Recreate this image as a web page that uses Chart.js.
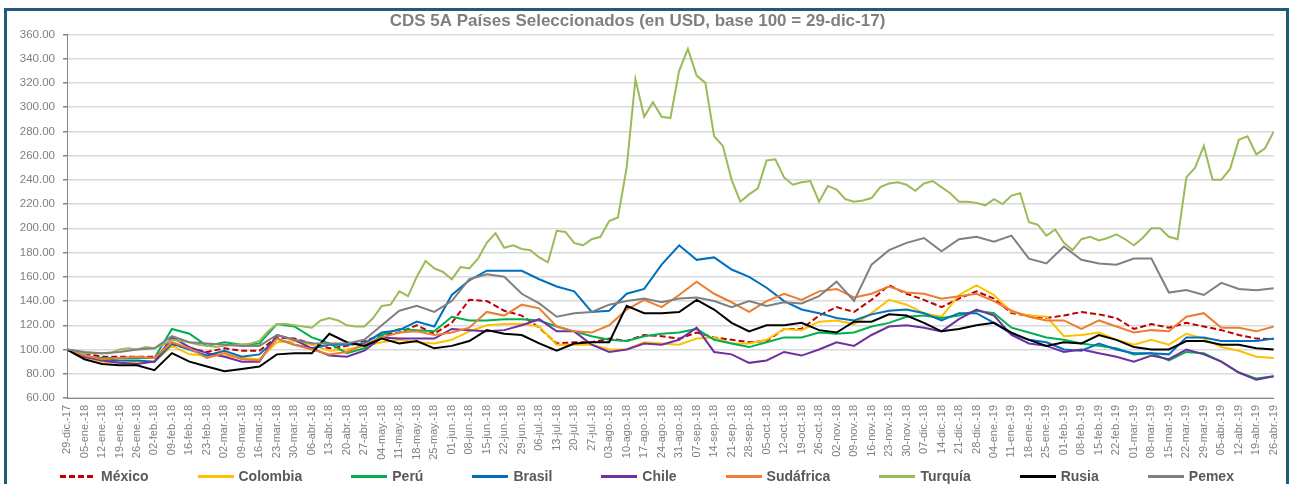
<!DOCTYPE html>
<html>
<head>
<meta charset="utf-8">
<script src="https://cdn.jsdelivr.net/npm/chart.js@4.4.1/dist/chart.umd.min.js"></script>
<style>
  html, body { margin: 0; padding: 0; background: #fff; }
  body { width: 1294px; height: 484px; overflow: hidden; position: relative; font-family: "Liberation Sans", Arial, sans-serif; }
  #frame { position: absolute; left: 4px; top: 8px; width: 1285px; height: 520px; border: 3px solid #1f5b7a; box-sizing: border-box; pointer-events: none; }
  #chart { position: absolute; left: 0; top: 0; }
  #legend { position: absolute; left: 0; top: 467px; width: 1294px; height: 18px; display: flex; justify-content: center; align-items: center; gap: 49px; }
  .item { display: flex; align-items: center; font-weight: bold; font-size: 14px; color: #595959; }
  .swatch { width: 36px; height: 3px; margin-right: 5px; }
</style>
</head>
<body>
<canvas id="chart" width="1294" height="484"></canvas>
<div id="frame"></div>
<div id="legend"></div>
<script>
// weekly axis labels (Fridays)
const weekLabels = ['29-dic.-17','05-ene.-18','12-ene.-18','19-ene.-18','26-ene.-18','02-feb.-18','09-feb.-18','16-feb.-18','23-feb.-18','02-mar.-18',
  '09-mar.-18','16-mar.-18','23-mar.-18','30-mar.-18','06-abr.-18','13-abr.-18','20-abr.-18','27-abr.-18','04-may.-18','11-may.-18',
  '18-may.-18','25-may.-18','01-jun.-18','08-jun.-18','15-jun.-18','22-jun.-18','29-jun.-18','06-jul.-18','13-jul.-18','20-jul.-18',
  '27-jul.-18','03-ago.-18','10-ago.-18','17-ago.-18','24-ago.-18','31-ago.-18','07-sep.-18','14-sep.-18','21-sep.-18','28-sep.-18',
  '05-oct.-18','12-oct.-18','19-oct.-18','26-oct.-18','02-nov.-18','09-nov.-18','16-nov.-18','23-nov.-18','30-nov.-18','07-dic.-18',
  '14-dic.-18','21-dic.-18','28-dic.-18','04-ene.-19','11-ene.-19','18-ene.-19','25-ene.-19','01-feb.-19','08-feb.-19','15-feb.-19',
  '22-feb.-19','01-mar.-19','08-mar.-19','15-mar.-19','22-mar.-19','29-mar.-19','05-abr.-19','12-abr.-19','19-abr.-19','26-abr.-19'];

// weekly values (base 100 = 29-dic-17)
const mexico = [100,97,94,94,94,94,104,101,98,101,
  99,99,110,109,105,101,103,107,112,114,
  120,113,122,141,140,132,128,118,105,106,
  106,109,107,112,111,109,114,110,108,106,
  107,117,117,128,135,131,141,153,146,141,
  135,142,148,142,130,128,126,128,131,129,
  126,117,121,118,122,119,116,112,109,108.6];
const colombia = [100,94,90,89,90,90,103,96,95,95,
  93,92,106,107,104,99,100,103,106,108,
  106,105,108,115,120,121,121,119,104,104,
  104,100,100,106,105,104,109,110,105,105,
  108,117,116,123,124,121,130,141,137,130,
  127,145,153,145,131,128,127,111,112,114,
  108,104,108,104,113,109,102,99,94,93];
const peru = [100,94,93,93,93,93,117,113,103,106,
  104,105,121,119,110,105,97,101,112,117,
  116,115,127,124,124,125,125,124,119,115,
  111,108,107,111,113,114,117,108,105,102,
  106,110,110,114,113,114,119,122,127,128,
  126,128,132,130,118,114,110,108,105,103,
  101,96,97,91,98,97,90,81,76,78];
const brasil = [100,95,92,91,91,90,105,100,95,99,
  94,96,109,104,101,104,104,105,114,116,
  123,119,145,157,165,165,165,158,152,148,
  131,132,146,150,170,186,174,176,166,160,
  151,140,133,130,126,124,129,132,133,130,
  124,130,130,122,113,108,106,100,99,105,
  100,97,97,96,110,110,107,107,107,109];
const chile = [100,94,91,89,88,90,110,102,97,94,
  90,90,112,108,101,95,94,99,110,109,
  109,109,117,116,115,116,120,125,115,115,
  104,98,100,105,104,108,118,98,96,89,
  91,98,95,100,106,103,112,119,120,118,
  115,125,133,128,112,105,103,98,100,97,
  94,90,95,92,100,96,90,81,75,78];
const sudafrica = [100,95,92,93,94,93,106,101,93,97,
  92,91,109,104,100,96,98,104,110,114,
  115,112,114,118,131,128,137,134,119,115,
  114,120,133,141,135,145,156,146,139,131,
  140,146,141,148,150,143,146,152,147,146,
  142,144,146,140,132,127,124,124,117,124,
  119,114,116,115,127,130,118,118,115,119];
// Turquía read at half-week steps
const turquia = [100,99,97,97,97,97,100,101,100,102,
  101,104,108,107,106,104,103,102,103,104,
  104,105,107,115,121,121,120,119,118,124,
  126,124,120,119,119,126,136,137,148,144,
  160,173,167,164,158,168,167,175,188,196,
  184,186,183,182,176,172,198,197,188,186,
  191,193,206,209,250,323,292,304,292,291,
  330,348,326,320,276,268,240,222,228,233,
  256,257,242,236,238,239,222,235,232,224,
  222,223,225,234,237,238,236,231,237,239,
  234,229,222,222,221,219,224,220,227,229,
  205,203,194,199,188,182,191,193,190,192,
  195,191,186,192,200,200,193,191,242,250,
  268,240,240,249,273,276,261,266,280];
const rusia = [100,92,88,87,87,83,97,90,86,82,
  84,86,96,97,97,113,106,103,109,105,
  107,101,103,107,116,113,112,105,99,105,
  106,106,136,130,130,131,141,133,122,115,
  120,120,122,116,114,123,123,129,128,122,
  115,117,120,122,114,108,103,106,105,112,
  108,102,100,100,107,107,104,104,101,100];
const pemex = [100,98,97,98,100,101,111,106,105,104,
  103,103,112,108,105,105,105,108,120,132,
  136,131,140,158,162,160,146,138,127,130,
  131,137,140,142,139,142,143,140,135,140,
  136,139,138,144,156,140,170,182,188,192,
  181,191,193,189,194,175,171,185,174,171,
  170,175,175,147,149,145,155,150,149,150.6];

// name, values, step in weeks, colour, dash
const series = [
  ['México', mexico, 1, '#c00000', [6, 3]],
  ['Colombia', colombia, 1, '#ffc000', []],
  ['Perú', peru, 1, '#00b050', []],
  ['Brasil', brasil, 1, '#0070c0', []],
  ['Chile', chile, 1, '#7030a0', []],
  ['Sudáfrica', sudafrica, 1, '#ed7d31', []],
  ['Turquía', turquia, 0.5, '#9bbb59', []],
  ['Rusia', rusia, 1, '#000000', []],
  ['Pemex', pemex, 1, '#808080', []]
];

Chart.defaults.font.family = '"Liberation Sans", Arial, sans-serif';

const datasets = series.map(([name, vals, step, color, dash], i) => ({
  label: name,
  data: vals.map((v, j) => ({ x: j * step, y: v })),
  borderColor: color,
  backgroundColor: color,
  borderDash: dash,
  borderWidth: 2,
  pointRadius: 0,
  tension: 0,
  fill: false,
  order: series.length - i   // later series drawn on top, like the original
}));

new Chart(document.getElementById('chart'), {
  type: 'line',
  data: { datasets },
  options: {
    responsive: false,
    animation: false,
    layout: { padding: { left: 0, right: 19, top: 0, bottom: 0 } },
    plugins: {
      legend: { display: false },
      tooltip: { enabled: false },
      title: {
        display: true,
        text: 'CDS 5A Países Seleccionados (en USD, base 100 = 29-dic-17)',
        color: '#7f7f7f',
        font: { size: 17, weight: 'bold' },
        padding: { top: 11, bottom: 3 }
      }
    },
    scales: {
      x: {
        type: 'linear',
        min: 0,
        max: weekLabels.length - 1,
        afterFit: s => { s.height = 86; },
        grid: { display: false, drawTicks: false },
        border: { color: '#868686', width: 1 },
        ticks: {
          stepSize: 1,
          maxTicksLimit: 200,
          autoSkip: false,
          minRotation: 90,
          maxRotation: 90,
          padding: 7,
          color: '#7f7f7f',
          font: { size: 11 },
          callback: v => weekLabels[Math.round(v)]
        }
      },
      y: {
        min: 60,
        max: 360,
        afterFit: s => { s.width = 67; },
        grid: { color: '#d9d9d9', lineWidth: 1.5, tickLength: 4, tickColor: '#868686' },
        border: { color: '#868686', width: 1 },
        ticks: {
          stepSize: 20,
          padding: 8,
          color: '#7f7f7f',
          font: { size: 11.5 },
          callback: v => v.toFixed(2)
        }
      }
    }
  }
});

// Legend as plain HTML so item spacing matches the original
const legend = document.getElementById('legend');
series.forEach(([name, , , color, dash]) => {
  const item = document.createElement('div');
  item.className = 'item';
  const sw = document.createElement('span');
  sw.className = 'swatch';
  sw.style.background = dash.length
    ? `repeating-linear-gradient(90deg, ${color} 0 ${dash[0]}px, transparent ${dash[0]}px ${dash[0] + dash[1]}px)`
    : color;
  item.appendChild(sw);
  item.appendChild(document.createTextNode(name));
  legend.appendChild(item);
});
</script>
</body>
</html>
